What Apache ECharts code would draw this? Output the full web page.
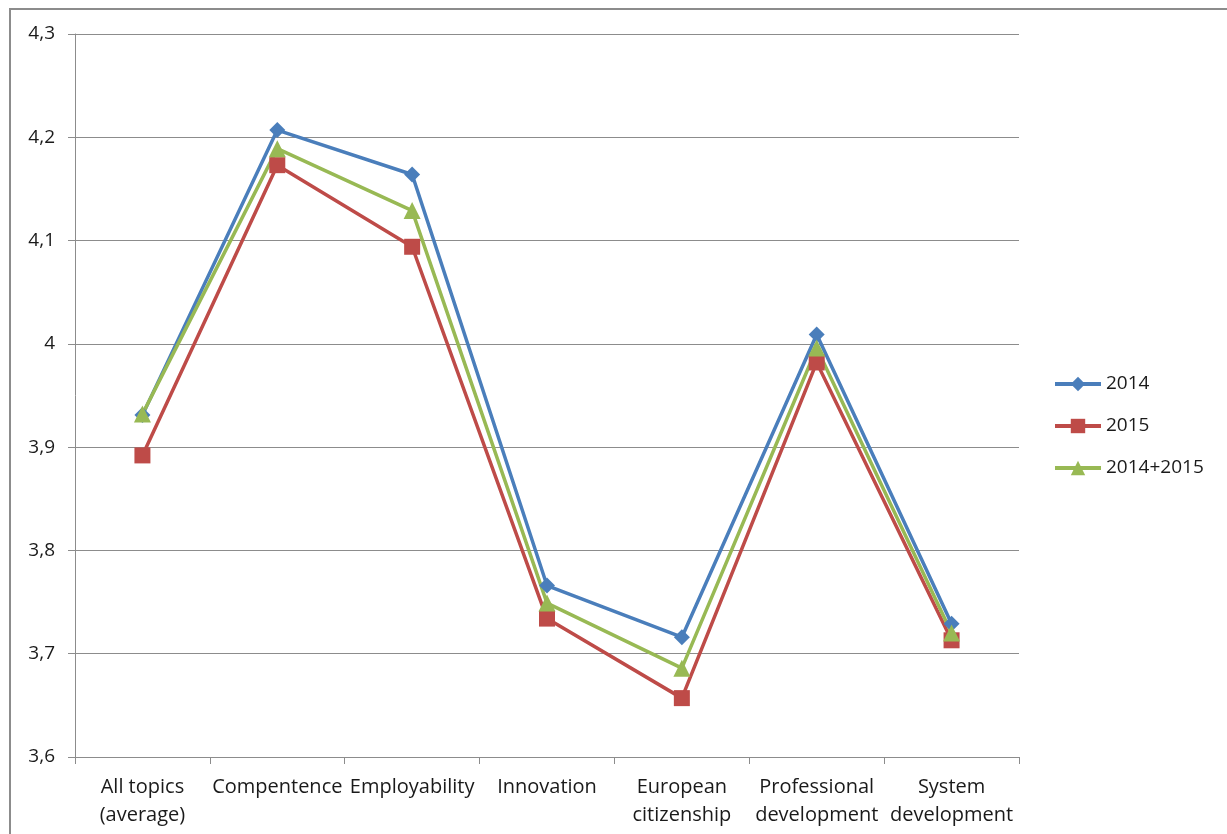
<!DOCTYPE html>
<html>
<head>
<meta charset="utf-8">
<script src="https://cdn.jsdelivr.net/npm/echarts@6/dist/echarts.min.js"></script>
<style>
  html, body { margin: 0; padding: 0; background: #ffffff; }
  #frame { position: absolute; left: 9px; top: 8px; width: 1230px; height: 840px; border: 2px solid #8c8c8c; box-sizing: border-box; }
  #chart { position: absolute; left: 0; top: 0; width: 1227px; height: 834px; }
</style>
</head>
<body>
<div id="frame"></div>
<div id="chart"></div>
<script>
// Topic categories along the x axis
const categories = [
  'All topics\n(average)',
  'Compentence',
  'Employability',
  'Innovation',
  'European\ncitizenship',
  'Professional\ndevelopment',
  'System\ndevelopment'
];

// Mean scores per topic
const values2014 = [3.931, 4.207, 4.164, 3.766, 3.716, 4.009, 3.729];
const values2015 = [3.892, 4.173, 4.094, 3.734, 3.657, 3.982, 3.713];
const valuesBoth = [3.932, 4.189, 4.129, 3.749, 3.686, 3.996, 3.720];

const seriesNames = ['2014', '2015', '2014+2015'];

const fontFamily = '"Open Sans", "Liberation Sans", sans-serif';
const textColor = '#1a1a1a';

const chart = echarts.init(document.getElementById('chart'));

function lineSeries(name, data, color, symbol, size) {
  return {
    name: name,
    type: 'line',
    data: data,
    symbol: symbol,
    symbolSize: size,
    showSymbol: true,
    lineStyle: { color: color, width: 3.5 },
    itemStyle: { color: color, borderWidth: 0 },
    emphasis: { disabled: true },
    z: 3
  };
}

chart.setOption({
  animation: false,
  backgroundColor: 'transparent',
  grid: { left: 75, right: 208, top: 34, bottom: 77 },
  legend: {
    orient: 'vertical',
    left: 1053,
    top: 374,
    padding: 0,
    itemWidth: 46,
    itemHeight: 18,
    itemGap: 22,
    data: seriesNames,
    lineStyle: { width: 4 },
    textStyle: { fontFamily: fontFamily, fontSize: 19, lineHeight: 20, color: textColor, padding: [0, 0, 0, 0] }
  },
  xAxis: {
    type: 'category',
    data: categories,
    boundaryGap: true,
    axisLine: { show: true, lineStyle: { color: '#8c8c8c', width: 1 } },
    axisTick: { show: true, alignWithLabel: false, length: 7, lineStyle: { color: '#8c8c8c' } },
    axisLabel: {
      interval: 0,
      margin: 16,
      fontFamily: fontFamily,
      fontSize: 20,
      color: textColor,
      lineHeight: 28,
      align: 'center'
    },
    splitLine: { show: false }
  },
  yAxis: {
    type: 'value',
    min: 3.6,
    max: 4.3,
    interval: 0.1,
    axisLine: { show: true, lineStyle: { color: '#8c8c8c', width: 1 } },
    axisTick: { show: true, length: 7, lineStyle: { color: '#8c8c8c' } },
    axisLabel: {
      margin: 20,
      fontFamily: fontFamily,
      fontSize: 19,
      color: textColor,
      formatter: function (v) {
        const r = Math.round(v * 10) / 10;
        return r === 4 ? '4' : r.toFixed(1).replace('.', ',');
      }
    },
    splitLine: { show: true, lineStyle: { color: '#8c8c8c', width: 1 } }
  },
  series: [
    lineSeries(seriesNames[0], values2014, '#4a7ebb', 'diamond', 16),
    lineSeries(seriesNames[1], values2015, '#be4b48', 'rect', 16),
    lineSeries(seriesNames[2], valuesBoth, '#98b954', 'triangle', 17)
  ]
});
</script>
</body>
</html>
